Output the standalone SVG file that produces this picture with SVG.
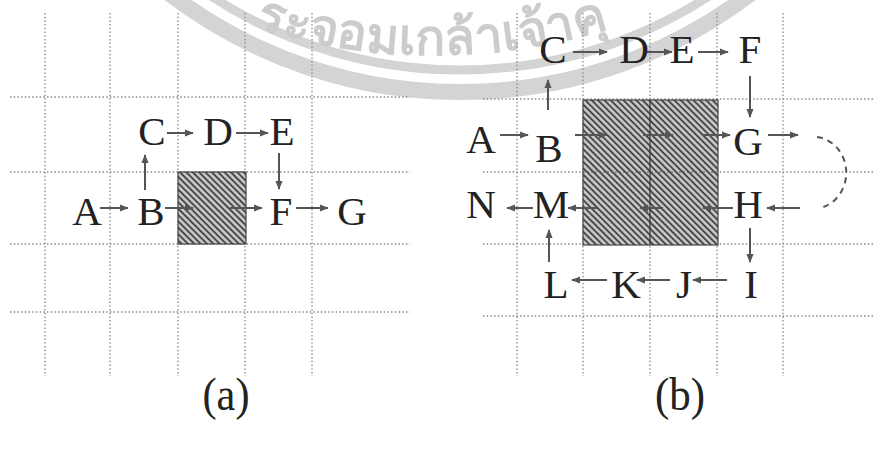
<svg xmlns="http://www.w3.org/2000/svg" width="873" height="449" viewBox="0 0 873 449">
<style>
.wm{fill:none;stroke:#d4d4d4}
.wmt{fill:#cccccc;stroke:#cccccc;stroke-width:1.5;font-family:"Noto Sans","DejaVu Sans",sans-serif;font-size:50px}
.grid line{stroke:#8a8a8a;stroke-width:1.3;stroke-dasharray:1.5 2.2}
.sq{fill:url(#hatch);stroke:#444;stroke-width:1.2}
.lbl{font-family:"Liberation Serif","Times New Roman",serif;font-size:41px;fill:#222;text-anchor:middle}
.cap{font-family:"Liberation Serif","Times New Roman",serif;font-size:46px;fill:#222;text-anchor:middle}
.conn line,.conn path{stroke:#555;stroke-width:2;fill:none}
.conn line{marker-end:url(#ah)}
.dash{stroke-dasharray:6 5}
</style>
<defs>
<pattern id="hatch" patternUnits="userSpaceOnUse" width="4.5" height="4.5" patternTransform="rotate(-45)">
<rect width="4.5" height="4.5" fill="#c8c8c8"/>
<line x1="1" y1="0" x2="1" y2="4.5" stroke="#404040" stroke-width="1.8"/>
</pattern>
<marker id="ah" viewBox="0 0 10 10" refX="9" refY="5" markerWidth="4.5" markerHeight="4.5" orient="auto" markerUnits="strokeWidth">
<path d="M0,1 L10,5 L0,9 z" fill="#555"/>
</marker>
<path id="wmpath" d="M -168 -545 A 600 600 0 0 0 1032 -545"/>
</defs>
<rect width="873" height="449" fill="#fff"/>
<g id="watermark">
<circle class="wm" cx="460" cy="-386" r="478" stroke-width="16"/>
<circle class="wm" cx="460" cy="-386" r="456" stroke-width="9"/>
<text class="wmt"><textPath href="#wmpath" startOffset="942" text-anchor="middle">ระจอมเกล้าเจ้าคุ</textPath></text>
</g>
<g class="grid">
<line x1="45" y1="13" x2="45" y2="376"/>
<line x1="110" y1="13" x2="110" y2="376"/>
<line x1="178" y1="13" x2="178" y2="376"/>
<line x1="245" y1="13" x2="245" y2="376"/>
<line x1="312" y1="13" x2="312" y2="376"/>
<line x1="10" y1="97" x2="410" y2="97"/>
<line x1="10" y1="172" x2="410" y2="172"/>
<line x1="10" y1="244" x2="410" y2="244"/>
<line x1="10" y1="312" x2="410" y2="312"/>
<line x1="517" y1="13" x2="517" y2="376"/>
<line x1="583" y1="13" x2="583" y2="376"/>
<line x1="650" y1="13" x2="650" y2="376"/>
<line x1="717" y1="13" x2="717" y2="376"/>
<line x1="783" y1="13" x2="783" y2="376"/>
<line x1="483" y1="99" x2="873" y2="99"/>
<line x1="483" y1="172" x2="873" y2="172"/>
<line x1="483" y1="244" x2="873" y2="244"/>
<line x1="483" y1="316" x2="873" y2="316"/>
</g>
<g id="blockA"><rect class="sq" x="178" y="172" width="68" height="72"/></g>
<g id="blockB"><rect class="sq" x="583" y="100" width="135" height="145"/>
<line x1="650" y1="100" x2="650" y2="245" stroke="#333" stroke-width="1.2"/>
<line x1="583" y1="172" x2="718" y2="172" stroke="#555" stroke-width="1" stroke-dasharray="2 2"/></g>
<g class="conn">
<line x1="167" y1="133" x2="193" y2="133"/>
<line x1="236" y1="133" x2="268" y2="133"/>
<line x1="145" y1="190" x2="145" y2="155"/>
<line x1="100" y1="208" x2="128" y2="208"/>
<line x1="165" y1="208" x2="193" y2="208"/>
<line x1="230" y1="208" x2="262" y2="208"/>
<line x1="279" y1="153" x2="279" y2="189"/>
<line x1="296" y1="208" x2="328" y2="208"/>
<line x1="573" y1="52" x2="607" y2="52"/>
<line x1="647" y1="52" x2="672" y2="52"/>
<line x1="698" y1="52" x2="728" y2="52"/>
<line x1="548" y1="110" x2="548" y2="80"/>
<line x1="750" y1="76" x2="750" y2="117"/>
<line x1="500" y1="135" x2="528" y2="135"/>
<line x1="575" y1="135" x2="607" y2="135"/>
<line x1="643" y1="135" x2="673" y2="135"/>
<line x1="703" y1="135" x2="730" y2="135"/>
<line x1="768" y1="135" x2="798" y2="135"/>
<path class="dash" d="M 817 137 A 33 36 0 0 1 820 208"/>
<line x1="800" y1="208" x2="767" y2="208"/>
<line x1="733" y1="208" x2="703" y2="208"/>
<line x1="663" y1="208" x2="640" y2="208"/>
<line x1="597" y1="208" x2="568" y2="208"/>
<line x1="533" y1="208" x2="507" y2="208"/>
<line x1="549" y1="262" x2="549" y2="230"/>
<line x1="750" y1="228" x2="750" y2="262"/>
<line x1="727" y1="280" x2="693" y2="280"/>
<line x1="670" y1="280" x2="637" y2="280"/>
<line x1="607" y1="280" x2="572" y2="280"/>
</g>
<g id="a-C"><text class="lbl" x="152" y="145">C</text></g>
<g id="a-D"><text class="lbl" x="218" y="145">D</text></g>
<g id="a-E"><text class="lbl" x="282" y="145">E</text></g>
<g id="a-A"><text class="lbl" x="87" y="225">A</text></g>
<g id="a-B"><text class="lbl" x="151" y="225">B</text></g>
<g id="a-F"><text class="lbl" x="281" y="225">F</text></g>
<g id="a-G"><text class="lbl" x="352" y="225">G</text></g>
<g id="b-C"><text class="lbl" x="553" y="63">C</text></g>
<g id="b-D"><text class="lbl" x="634" y="63">D</text></g>
<g id="b-E"><text class="lbl" x="682" y="63">E</text></g>
<g id="b-F"><text class="lbl" x="750" y="63">F</text></g>
<g id="b-A"><text class="lbl" x="481" y="153">A</text></g>
<g id="b-B"><text class="lbl" x="549" y="162">B</text></g>
<g id="b-G"><text class="lbl" x="748" y="155">G</text></g>
<g id="b-N"><text class="lbl" x="481" y="218">N</text></g>
<g id="b-M"><text class="lbl" x="551" y="218">M</text></g>
<g id="b-H"><text class="lbl" x="748" y="218">H</text></g>
<g id="b-L"><text class="lbl" x="556" y="298">L</text></g>
<g id="b-K"><text class="lbl" x="626" y="298">K</text></g>
<g id="b-J"><text class="lbl" x="684" y="298">J</text></g>
<g id="b-I"><text class="lbl" x="751" y="298">I</text></g>
<g id="cap-a"><text class="cap" x="226" y="410" textLength="47" lengthAdjust="spacingAndGlyphs">(a)</text></g>
<g id="cap-b"><text class="cap" x="680" y="410" textLength="50" lengthAdjust="spacingAndGlyphs">(b)</text></g>
</svg>
